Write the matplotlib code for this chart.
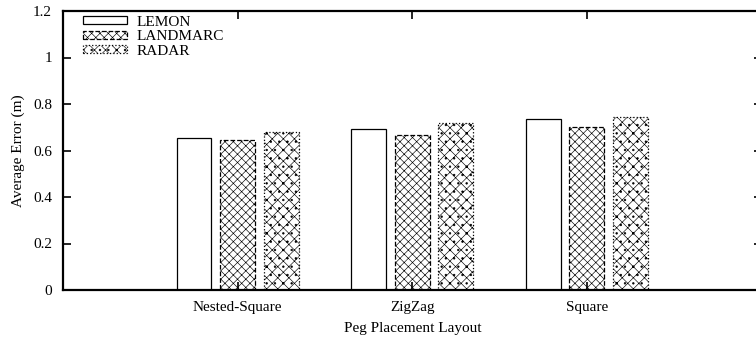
import numpy as np
import matplotlib
matplotlib.use("Agg")
import matplotlib.pyplot as plt

plt.rcParams['font.family'] = ['Liberation Serif', 'DejaVu Serif']
plt.rcParams['hatch.linewidth'] = 0.45

# average localisation error per layout
layouts = ["Nested-Square", "ZigZag", "Square"]
lemon = [0.653, 0.693, 0.734]
landmarc = [0.645, 0.666, 0.700]
radar = [0.679, 0.719, 0.742]

series_names = ["LEMON", "LANDMARC", "RADAR"]
hatches = ["", "xxxx", "xxx.."]
edge_styles = ["-", "--", ":"]

fig = plt.figure(figsize=(7.56, 3.38), dpi=100)
ax = fig.add_axes([63/756, 1-290/338, (761.5-63)/756, (290-11)/338])

x = np.arange(len(layouts))
w = 0.2
gap = 0.25
for i, (vals, name) in enumerate(zip([lemon, landmarc, radar], series_names)):
    ax.bar(x + (i-1)*gap, vals, w, label=name, facecolor="white",
           edgecolor="black", hatch=hatches[i], linestyle=edge_styles[i],
           linewidth=0.9)

ax.set_xlim(-1, 3)
ax.set_ylim(0, 1.2)
ax.set_yticks([0, 0.2, 0.4, 0.6, 0.8, 1, 1.2])
ax.set_yticklabels(["0", "0.2", "0.4", "0.6", "0.8", "1", "1.2"])
ax.set_xticks(x)
ax.set_xticklabels(layouts)
ax.tick_params(direction="in", top=True, right=True, length=6, width=1.2,
               labelsize=11, pad=8)
for s in ax.spines.values():
    s.set_linewidth(1.6)

ax.set_ylabel("Average Error (m)", fontsize=11, labelpad=6)
ax.set_xlabel("Peg Placement Layout", fontsize=11, labelpad=6)

ax.legend(loc="upper left", frameon=False, fontsize=11, handlelength=2.9,
          handleheight=0.45, labelspacing=0.1, borderaxespad=0.0,
          borderpad=0.3, handletextpad=0.6, bbox_to_anchor=(0.022, 1.0))

fig.savefig("out.png", dpi=100)
